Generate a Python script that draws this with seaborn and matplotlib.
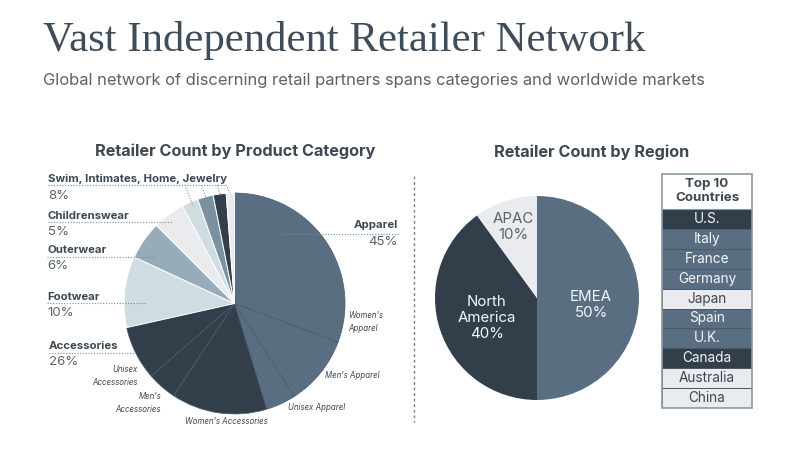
import matplotlib
matplotlib.use("Agg")
import matplotlib.pyplot as plt
from matplotlib.colors import ListedColormap
from matplotlib.patches import Rectangle
import numpy as np
import seaborn as sns

SLATE = "#5a6e82"
DARK = "#323f4a"
PALE = "#cfdce2"
MID = "#96acb8"
LIGHT = "#e9ebef"
STEEL = "#7a929f"
TEXT = "#3d4852"
SOFT = "#59636c"

category_names = ["Women's Apparel", "Men's Apparel", "Unisex Apparel", "Women's Accessories",
                  "Men's Accessories", "Unisex Accessories", "Footwear", "Outerwear",
                  "Childrenswear", "Swim", "Intimates", "Home", "Jewelry"]
category_values = [30.7, 10.2, 4.4, 14.0, 4.3, 7.9, 10.4, 5.6, 4.7, 2.4, 2.3, 1.9, 1.2]
category_colors = [SLATE, SLATE, SLATE, DARK, DARK, DARK, PALE, MID, LIGHT, PALE, STEEL, DARK, LIGHT]

region_names = ["EMEA", "North\nAmerica", "APAC"]
region_values = [50, 40, 10]
region_colors = [SLATE, DARK, LIGHT]

countries = ["U.S.", "Italy", "France", "Germany", "Japan", "Spain", "U.K.", "Canada", "Australia", "China"]
# which region each country is coloured by: 0 EMEA, 1 North America, 2 APAC
country_region = [1, 0, 0, 0, 2, 0, 0, 1, 2, 2]

sns.set_theme(style="white")
plt.rcParams["font.family"] = ["Inter", "DejaVu Sans"]

W, H = 800, 450
fig = plt.figure(figsize=(W / 100, H / 100), dpi=100)


def px_axes(x0, y0, x1, y1):
    return fig.add_axes([x0 / W, 1 - y1 / H, (x1 - x0) / W, (y1 - y0) / H])


# left pie
ax1 = px_axes(124, 193, 345, 414)
wedges, _ = ax1.pie(category_values, colors=category_colors, startangle=90, counterclock=False,
                    wedgeprops={"edgecolor": "#ffffff", "linewidth": 0.7})
for w in wedges[:6]:
    w.set_edgecolor("#4a5a69")
    w.set_linewidth(0.5)
ax1.set_xlim(-1, 1)
ax1.set_ylim(-1, 1)

# right pie
ax2 = px_axes(435, 196, 639, 400)
ax2.pie(region_values, colors=region_colors, startangle=90, counterclock=False,
        wedgeprops={"linewidth": 0})
ax2.set_xlim(-1, 1)
ax2.set_ylim(-1, 1)

# country table
ax3 = px_axes(662, 209, 752, 408)
cells = np.array(country_region).reshape(-1, 1)
labels = np.array(countries).reshape(-1, 1)
sns.heatmap(cells, ax=ax3, cmap=ListedColormap(region_colors), vmin=-0.5, vmax=2.5, cbar=False,
            annot=labels, fmt="", annot_kws={"fontsize": 9.8},
            linewidths=0.6, linecolor="#4a5a69", xticklabels=False, yticklabels=False)
for txt, reg in zip(ax3.texts, country_region):
    txt.set_color("#f4f6f8" if reg != 2 else TEXT)

# overlay in pixel coordinates for text and leader lines
ov = fig.add_axes([0, 0, 1, 1], facecolor="none")
ov.set_xlim(0, W)
ov.set_ylim(H, 0)
ov.axis("off")

ov.text(43, 41, "Vast Independent Retailer Network", family="Liberation Serif", fontsize=30.8,
        color="#3f4d5a", va="center", ha="left")
ov.text(43, 81, "Global network of discerning retail partners spans categories and worldwide markets",
        fontsize=11.9, color=SOFT, va="center", ha="left")
ov.text(235, 151, "Retailer Count by Product Category", fontsize=11.7, fontweight="bold",
        color=TEXT, va="center", ha="center")
ov.text(592, 152, "Retailer Count by Region", fontsize=11.7, fontweight="bold",
        color=TEXT, va="center", ha="center")

leader = {"color": "#7d8a94", "linewidth": 0.8, "linestyle": (0, (1, 1.5))}
ov.plot([414, 414], [176, 422], color="#6f8296", linewidth=1, linestyle=(0, (2, 2)))

# label, x, name y, pct y, pct text, leader line
outer_labels = [
    ("Swim, Intimates, Home, Jewelry", 48, 179, 196, "8%", [48, 226], 185),
    ("Childrenswear", 48, 216, 232, "5%", [48, 172], 222),
    ("Outerwear", 47, 250, 266, "6%", [47, 154], 257),
    ("Footwear", 47, 297, 313, "10%", [47, 147], 303),
    ("Accessories", 49, 346, 362, "26%", [49, 135], 353),
]
for name, x, y_name, y_pct, pct, xs, y_line in outer_labels:
    ov.text(x, y_name, name, fontsize=8.2, fontweight="bold", color=TEXT, va="center", ha="left")
    ov.text(x, y_pct, pct, fontsize=9.5, color=SOFT, va="center", ha="left")
    ov.plot(xs, [y_line, y_line], **leader)

ov.text(398, 225, "Apparel", fontsize=8.2, fontweight="bold", color=TEXT, va="center", ha="right")
ov.text(398, 242, "45%", fontsize=9.5, color=SOFT, va="center", ha="right")
ov.plot([283, 398], [234, 234], **leader)

# little ticks from the top label down to the thin slices
for x0, x1, y1 in [(185, 193, 206), (201, 208, 202), (217, 220, 194), (226, 230, 193)]:
    ov.plot([x0, x1], [185, y1], **leader)

small_labels = [
    ("Women's\nApparel", 348, 322, "left"),
    ("Men's Apparel", 325, 375, "left"),
    ("Unisex Apparel", 288, 408, "left"),
    ("Women's Accessories", 226, 422, "center"),
    ("Men's\nAccessories", 161, 403, "right"),
    ("Unisex\nAccessories", 138, 376, "right"),
]
for name, x, y, ha in small_labels:
    ov.text(x, y, name, fontsize=5.7, fontstyle="italic", color=TEXT, va="center", ha=ha, linespacing=1.6)

ov.text(591, 305, "EMEA\n50%", fontsize=10.8, color="#f4f6f8", ha="center", va="center", linespacing=1.2)
ov.text(487, 318, "North\nAmerica\n40%", fontsize=10.8, color="#f4f6f8", ha="center", va="center", linespacing=1.2)
ov.text(513, 227, "APAC\n10%", fontsize=10.8, color=SOFT, ha="center", va="center", linespacing=1.2)

ov.add_patch(Rectangle((662, 174), 90, 234, facecolor="none", edgecolor="#8b99a5", linewidth=1.2))
ov.plot([662, 752], [209, 209], color="#8b99a5", linewidth=0.8)
ov.text(707, 191, "Top 10\nCountries", fontsize=9.6, fontweight="bold", color=TEXT, ha="center", va="center",
        linespacing=1.15)

fig.savefig("out.png", dpi=100)
